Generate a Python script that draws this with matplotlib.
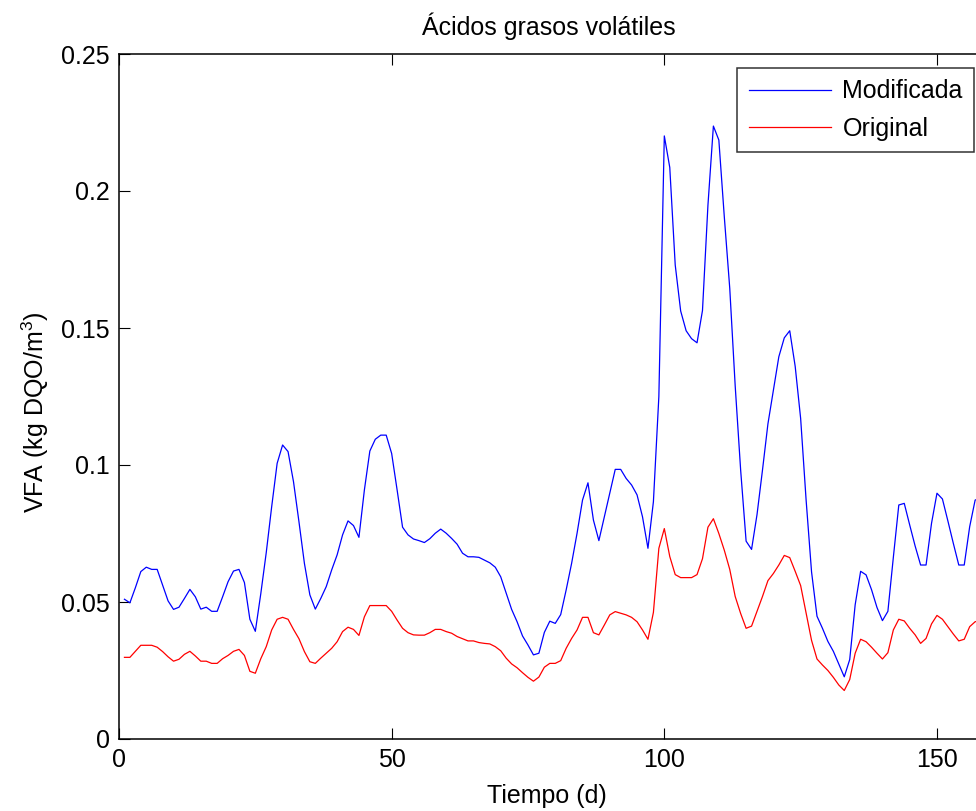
import matplotlib
matplotlib.use("Agg")
import matplotlib.pyplot as plt
import numpy as np

plt.rcParams['font.family'] = ['Liberation Sans', 'DejaVu Sans']
plt.rcParams['mathtext.fontset'] = 'custom'
plt.rcParams['mathtext.rm'] = 'Liberation Sans'

# Simulation day
dias = list(range(1, 159))

# VFA concentration, modified scheme (kg DQO/m3)
modificada = [
    0.0510, 0.0497, 0.0552, 0.0611, 0.0627, 0.0619, 0.0619, 0.0562, 0.0504, 0.0473,
    0.0481, 0.0513, 0.0546, 0.0519, 0.0474, 0.0481, 0.0466, 0.0466, 0.0519, 0.0574,
    0.0613, 0.0619, 0.0571, 0.0437, 0.0393, 0.0530, 0.0680, 0.0848, 0.1006, 0.1073,
    0.1049, 0.0939, 0.0793, 0.0641, 0.0526, 0.0474, 0.0513, 0.0556, 0.0617, 0.0672,
    0.0745, 0.0796, 0.0779, 0.0736, 0.0909, 0.1051, 0.1094, 0.1109, 0.1109, 0.1042,
    0.0909, 0.0773, 0.0745, 0.0730, 0.0724, 0.0717, 0.0731, 0.0751, 0.0766, 0.0751,
    0.0732, 0.0711, 0.0678, 0.0665, 0.0665, 0.0663, 0.0653, 0.0643, 0.0627, 0.0592,
    0.0532, 0.0473, 0.0428, 0.0376, 0.0343, 0.0307, 0.0313, 0.0389, 0.0430, 0.0422,
    0.0454, 0.0544, 0.0641, 0.0751, 0.0872, 0.0935, 0.0799, 0.0724, 0.0811, 0.0897,
    0.0984, 0.0984, 0.0951, 0.0927, 0.0891, 0.0811, 0.0696, 0.0866, 0.1250, 0.2201,
    0.2086, 0.1730, 0.1562, 0.1490, 0.1461, 0.1446, 0.1564, 0.1948, 0.2237, 0.2186,
    0.1906, 0.1645, 0.1288, 0.0981, 0.0722, 0.0692, 0.0819, 0.0981, 0.1150, 0.1272,
    0.1395, 0.1464, 0.1490, 0.1360, 0.1170, 0.0873, 0.0610, 0.0448, 0.0404, 0.0356,
    0.0320, 0.0274, 0.0227, 0.0290, 0.0490, 0.0612, 0.0599, 0.0545, 0.0480, 0.0432,
    0.0466, 0.0663, 0.0854, 0.0860, 0.0781, 0.0704, 0.0635, 0.0635, 0.0787, 0.0897,
    0.0876, 0.0796, 0.0714, 0.0635, 0.0635, 0.0775, 0.0872, 0.0880,
]

# VFA concentration, original scheme (kg DQO/m3)
original = [
    0.0298, 0.0298, 0.0320, 0.0342, 0.0342, 0.0342, 0.0335, 0.0319, 0.0300, 0.0284,
    0.0291, 0.0309, 0.0320, 0.0303, 0.0284, 0.0284, 0.0276, 0.0276, 0.0293, 0.0305,
    0.0320, 0.0327, 0.0305, 0.0247, 0.0240, 0.0293, 0.0337, 0.0398, 0.0437, 0.0444,
    0.0437, 0.0400, 0.0366, 0.0319, 0.0282, 0.0276, 0.0295, 0.0313, 0.0331, 0.0355,
    0.0392, 0.0408, 0.0400, 0.0378, 0.0446, 0.0487, 0.0487, 0.0487, 0.0487, 0.0466,
    0.0434, 0.0404, 0.0388, 0.0380, 0.0379, 0.0379, 0.0388, 0.0400, 0.0400, 0.0392,
    0.0386, 0.0374, 0.0366, 0.0358, 0.0358, 0.0352, 0.0349, 0.0347, 0.0337, 0.0322,
    0.0295, 0.0274, 0.0260, 0.0242, 0.0225, 0.0211, 0.0226, 0.0262, 0.0276, 0.0276,
    0.0286, 0.0331, 0.0367, 0.0398, 0.0444, 0.0444, 0.0388, 0.0380, 0.0416, 0.0453,
    0.0465, 0.0459, 0.0453, 0.0444, 0.0428, 0.0398, 0.0364, 0.0462, 0.0696, 0.0768,
    0.0666, 0.0600, 0.0589, 0.0589, 0.0589, 0.0600, 0.0658, 0.0773, 0.0804, 0.0750,
    0.0689, 0.0619, 0.0520, 0.0458, 0.0404, 0.0412, 0.0466, 0.0520, 0.0578, 0.0604,
    0.0635, 0.0670, 0.0662, 0.0612, 0.0560, 0.0460, 0.0360, 0.0292, 0.0270, 0.0250,
    0.0225, 0.0197, 0.0177, 0.0217, 0.0313, 0.0364, 0.0355, 0.0335, 0.0313, 0.0292,
    0.0315, 0.0398, 0.0437, 0.0431, 0.0404, 0.0380, 0.0349, 0.0367, 0.0420, 0.0451,
    0.0437, 0.0410, 0.0383, 0.0358, 0.0364, 0.0410, 0.0428, 0.0432,
]

xticks = [0, 50, 100, 150]
yticks = [0, 0.05, 0.10, 0.15, 0.20, 0.25]
ytick_labels = ['0', '0.05', '0.1', '0.15', '0.2', '0.25']

W, H = 976, 811
fig = plt.figure(figsize=(W / 100, H / 100), dpi=100)
# axes box runs slightly past the right edge of the canvas
ax = fig.add_axes([119 / W, (H - 739) / H, (991.5 - 119) / W, 685 / H])

ax.plot(dias, modificada, color=(0, 0, 1), lw=0.9, label='Modificada')
ax.plot(dias, original, color=(1, 0, 0), lw=0.9, label='Original')

ax.set_xlim(0, 160)
ax.set_ylim(0, 0.25)
ax.set_xticks(xticks)
ax.set_xticklabels([str(t) for t in xticks])
ax.set_yticks(yticks)
ax.set_yticklabels(ytick_labels)
ax.tick_params(direction='in', length=8, width=0.8, labelsize=18,
               top=True, right=True, pad=6.5)
for s in ax.spines.values():
    s.set_linewidth(1.1)
    s.set_color('black')

fig.text(549 / W, 1 - 26 / H, 'Ácidos grasos volátiles', ha='center', va='center', fontsize=18)
fig.text(547 / W, 1 - 796 / H, 'Tiempo (d)', ha='center', va='center', fontsize=18)
fig.text(35 / W, 1 - 412 / H, r'VFA (kg DQO/m$\mathregular{^3}$)', ha='center', va='center',
         rotation=90, fontsize=18)

leg = ax.legend(loc='upper right', bbox_to_anchor=(974 / W, 1 - 68 / H),
                bbox_transform=fig.transFigure, borderaxespad=0, fontsize=18,
                frameon=True, fancybox=False, shadow=False, handlelength=3.3,
                handletextpad=0.45, borderpad=0.45, labelspacing=0.54)
leg.get_frame().set_edgecolor('black')
leg.get_frame().set_linewidth(1.1)

fig.savefig('out.png', dpi=100)
